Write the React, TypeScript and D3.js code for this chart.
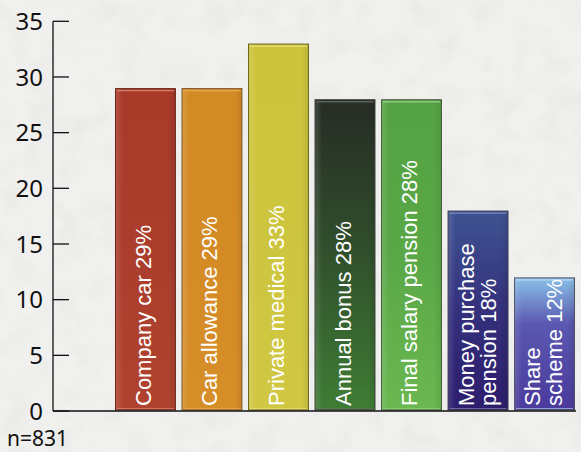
import React from "react";
import * as d3 from "d3";

const categories: string[][] = [
  ["Company car 29%"],
  ["Car allowance 29%"],
  ["Private medical 33%"],
  ["Annual bonus 28%"],
  ["Final salary pension 28%"],
  ["Money purchase", "pension 18%"],
  ["Share", "scheme 12%"],
];
const values: number[] = [29, 29, 33, 28, 28, 18, 12];
const yTicks: number[] = [0, 5, 10, 15, 20, 25, 30, 35];
const sampleNote = "n=831";

// gradient stops per bar (top -> bottom)
const barColors: string[][] = [
  ["#a83a2a", "#aa3d2c", "#b0432f"],
  ["#d28a24", "#d48b26", "#d68e28"],
  ["#cdc43c", "#cec53f", "#d0c842"],
  ["#262c25", "#31502c", "#3f7d35"],
  ["#55a244", "#5aa747", "#6ab850"],
  ["#3e5391", "#34307c", "#2d1d6c"],
  ["#89c0e8", "#5a58b0", "#4a3a9c"],
];
const strokeColors: string[] = ["#6a2a1e", "#7a5a2a", "#6a6420", "#3a3a36", "#4a5a40", "#3a3a50", "#505060"];
const highlightColors: string[] = ["#e0907c", "#f0b060", "#eeea90", "#6a7064", "#9ad88a", "#8a96c8", "#c0e0f8"];

const W = 581;
const H = 452;

export default function App() {
  const x = d3
    .scaleBand<number>()
    .domain(d3.range(values.length))
    .range([112.2, 577.8])
    .paddingInner(0.084)
    .paddingOuter(0.042);
  const y = d3.scaleLinear().domain([0, 35]).range([411, 21.3]);
  const axisX = 53;
  const bw = x.bandwidth();

  return (
    <svg
      width={W}
      height={H}
      style={{ position: "absolute", left: 0, top: 0 }}
      xmlns="http://www.w3.org/2000/svg"
    >
      <defs>
        <filter id="noise" x="0" y="0" width="100%" height="100%">
          <feTurbulence type="fractalNoise" baseFrequency="0.035" numOctaves={4} seed={7} result="t" />
          <feColorMatrix
            type="matrix"
            values="0 0 0 0 0.55  0 0 0 0 0.55  0 0 0 0 0.54  0 0 0 -1.1 0.62"
          />
        </filter>
        {barColors.map((c, i) => (
          <linearGradient key={i} id={`g${i}`} x1="0" y1="0" x2="0" y2="1">
            <stop offset="0%" stopColor={c[0]} />
            <stop offset={i === 6 ? "35%" : "50%"} stopColor={c[1]} />
            <stop offset="100%" stopColor={c[2]} />
          </linearGradient>
        ))}
        <linearGradient id="sheen" x1="0" y1="0" x2="1" y2="0">
          <stop offset="0%" stopColor="#fff" stopOpacity={0.12} />
          <stop offset="12%" stopColor="#fff" stopOpacity={0.0} />
          <stop offset="88%" stopColor="#000" stopOpacity={0.0} />
          <stop offset="100%" stopColor="#000" stopOpacity={0.08} />
        </linearGradient>
      </defs>
      <rect x={0} y={0} width={W} height={H} fill="#f0f0ee" />
      <rect x={0} y={0} width={W} height={H} filter="url(#noise)" opacity={0.3} />

      {values.map((v, i) => {
        const x0 = x(i)!;
        const yt = y(v);
        const yb = y(0) - 1;
        return (
          <g key={i}>
            <rect x={x0 + 0.5} y={yt + 0.5} width={bw - 1} height={yb - yt - 0.5} fill={`url(#g${i})`} stroke={strokeColors[i]} strokeWidth={1} />
            <rect x={x0 + 1} y={yt + 1} width={bw - 2} height={yb - yt - 1.5} fill="url(#sheen)" />
            <line x1={x0 + 2} x2={x0 + bw - 2} y1={yt + 2.5} y2={yt + 2.5} stroke={highlightColors[i]} strokeWidth={1.3} opacity={0.8} />
            <line x1={x0 + 2} x2={x0 + bw - 2} y1={yb - 1.5} y2={yb - 1.5} stroke={highlightColors[i]} strokeWidth={1} opacity={0.6} />
          </g>
        );
      })}

      {categories.map((lines, i) => {
        const cx = x(i)! + bw / 2;
        const offsets = lines.length === 1 ? [5.5] : [-4.5, 17.5];
        return lines.map((ln, j) => (
          <text
            key={`${i}-${j}`}
            transform={`translate(${cx + offsets[j]},406) rotate(-90)`}
            fill="#ffffff"
            fontFamily="'Liberation Sans', Arial, sans-serif"
            fontSize={22}
            textAnchor="start"
          >
            {ln}
          </text>
        ));
      })}

      {/* axes */}
      <line x1={axisX} x2={axisX} y1={y(35)} y2={y(0)} stroke="#111" strokeWidth={1.3} />
      <line x1={axisX} x2={576} y1={y(0)} y2={y(0)} stroke="#111" strokeWidth={1.3} />
      {yTicks.map((t) => (
        <g key={t}>
          <line x1={axisX} x2={69} y1={y(t)} y2={y(t)} stroke="#111" strokeWidth={1.3} />
          <text
            x={43}
            y={y(t)}
            dy="0.36em"
            textAnchor="end"
            fontFamily="'Noto Sans', 'Open Sans', sans-serif"
            fontSize={24}
            fill="#111"
          >
            {t}
          </text>
        </g>
      ))}
      <text x={7} y={446} fontFamily="'Noto Sans', 'Open Sans', sans-serif" fontSize={21} fill="#111">
        {sampleNote}
      </text>
    </svg>
  );
}
